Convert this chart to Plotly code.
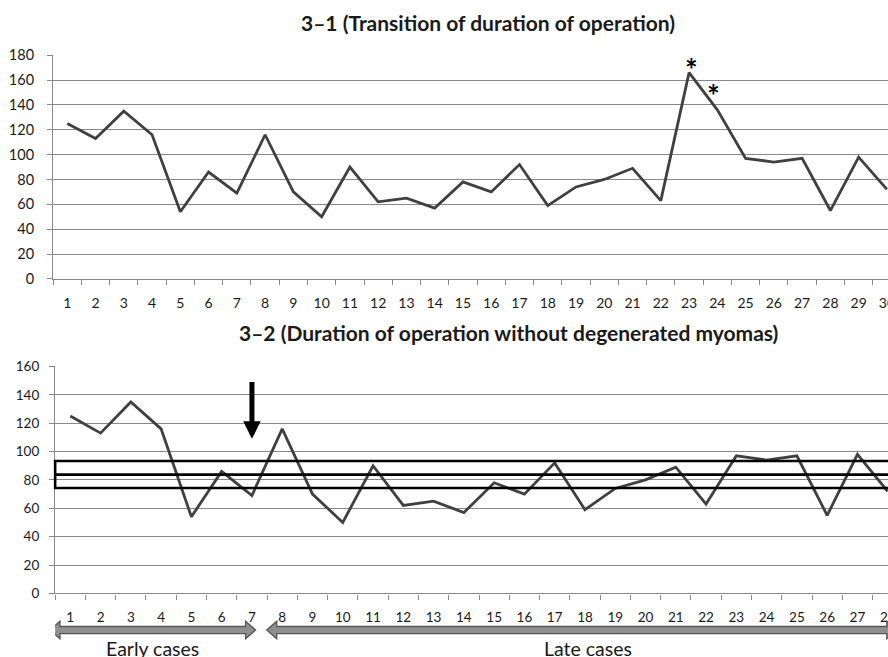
import plotly.graph_objects as go

# ---------------- data ----------------
cases_all = list(range(1, 31))
duration_all = [125, 113, 135, 116, 54, 86, 69, 116, 70, 50,
                90, 62, 65, 57, 78, 70, 92, 59, 74, 80,
                89, 63, 166, 136, 97, 94, 97, 55, 98, 72]

cases_excl = list(range(1, 29))
duration_excl = [125, 113, 135, 116, 54, 86, 69, 116, 70, 50,
                 90, 62, 65, 57, 78, 70, 92, 59, 74, 80,
                 89, 63, 97, 94, 97, 55, 98, 72]

band_lower, band_mid, band_upper = 74.3, 83.7, 93.3
asterisk_cases = [23, 24]
asterisk_values = [169, 148]
arrow_case = 7
arrow_from, arrow_to = 150, 109
early_span = (0.33, 7.12)
late_span = (7.49, 28.3)

title_top = "3\u20131 (Transition of duration of operation)"
title_bottom = "3\u20132 (Duration of operation without degenerated myomas)"
yticks_top = list(range(0, 181, 20))
yticks_bottom = list(range(0, 161, 20))

# ---------------- figure ----------------
W, H = 896, 666
FONT = "Lato"
GRID = "#888888"
LINE = "#404040"
TXT = "#1a1a1a"

def py(p):  # target on-screen pixel y -> paper y (empirical screen mapping)
    yi = (p - 8) / 0.976
    return 1 - yi / H

def px(p):  # target on-screen pixel x -> paper x
    return (p / 0.994) / W

fig = go.Figure()
fig.add_trace(go.Scatter(x=cases_all, y=duration_all, mode="lines",
                         line=dict(color=LINE, width=2.8), xaxis="x", yaxis="y",
                         showlegend=False, hoverinfo="x+y"))
fig.add_trace(go.Scatter(x=cases_excl, y=duration_excl, mode="lines",
                         line=dict(color=LINE, width=2.8), xaxis="x2", yaxis="y2",
                         showlegend=False, hoverinfo="x+y"))

def xaxis(domain, rng, cases, fs):
    return dict(domain=domain, range=rng, tickmode="array", tickvals=cases,
                ticktext=[str(c) for c in cases], ticks="outside", ticklen=11,
                tickcolor="rgba(0,0,0,0)", showgrid=False, zeroline=False,
                showline=True, linecolor=GRID, linewidth=1.3,
                ticklabeloverflow="allow",
                tickfont=dict(family=FONT, size=fs, color=TXT),
                minor=dict(tickmode="linear", tick0=0.5, dtick=1, ticks="outside",
                           ticklen=5, tickcolor=GRID, tickwidth=1.3, showgrid=False))

def yaxis(domain, rng, ticks, fs, standoff):
    return dict(domain=domain, range=rng, tickmode="array", tickvals=ticks,
                ticks="outside", ticklen=5, tickcolor=GRID, tickwidth=1.3,
                showgrid=True, gridcolor=GRID, gridwidth=1.4, zeroline=False,
                showline=True, linecolor=GRID, linewidth=1.3,
                ticklabelstandoff=standoff,
                tickfont=dict(family=FONT, size=fs, color=TXT))

fig.update_layout(
    width=W, height=H, margin=dict(l=0, r=0, t=0, b=0),
    paper_bgcolor="white", plot_bgcolor="white", showlegend=False,
    xaxis=xaxis([px(53), 1], [0.5, 0.5 + 835 / 28.1], cases_all, 14),
    yaxis=yaxis([py(278.3), py(54.3)], [0, 180], yticks_top, 14.5, 10),
    xaxis2=xaxis([px(55), 1], [0.5, 0.5 + 833 / 30.1], cases_excl, 13.5),
    yaxis2=yaxis([py(593.3), py(366)], [0, 160], yticks_bottom, 13.5, 7),
)
fig.layout.xaxis2.anchor = "y2"
fig.layout.yaxis2.anchor = "x2"

shapes = []
# band rectangle and centre line
shapes.append(dict(type="rect", xref="x2 domain", yref="y2", x0=0, x1=1.02,
                   y0=band_lower, y1=band_upper, line=dict(color="black", width=2.6),
                   fillcolor="rgba(0,0,0,0)"))
shapes.append(dict(type="line", xref="x2 domain", yref="y2", x0=0, x1=1,
                   y0=band_mid, y1=band_mid, line=dict(color="black", width=2.6)))

# double-headed block arrows (early / late cases)
yc = py(630)
bh = 3.6 / H
hh = 9 / H
hl = 0.33
def dbl_arrow(x0, x1):
    pts = [(x0, yc), (x0 + hl, yc + hh), (x0 + hl, yc + bh), (x1 - hl, yc + bh),
           (x1 - hl, yc + hh), (x1, yc), (x1 - hl, yc - hh), (x1 - hl, yc - bh),
           (x0 + hl, yc - bh), (x0 + hl, yc - hh)]
    return "M " + " L ".join(f"{a},{b}" for a, b in pts) + " Z"

for span in (early_span, late_span):
    shapes.append(dict(type="path", xref="x2", yref="paper", path=dbl_arrow(*span),
                       fillcolor="#8f8f8f", line=dict(color="#555555", width=1.3)))
fig.update_layout(shapes=shapes)

ann = []
ann.append(dict(text=f"<b>{title_top}</b>", xref="paper", yref="paper",
                x=px(487), y=py(22), xanchor="center", yanchor="middle",
                showarrow=False, font=dict(family=FONT, size=21, color=TXT)))
ann.append(dict(text=f"<b>{title_bottom}</b>", xref="paper", yref="paper",
                x=px(507), y=py(332), xanchor="center", yanchor="middle",
                showarrow=False, font=dict(family=FONT, size=21, color=TXT)))
for c, v, dx in zip(asterisk_cases, asterisk_values, [0.1, -0.12]):
    ann.append(dict(text="<b>*</b>", xref="x", yref="y", x=c + dx, y=v,
                    xanchor="center", yanchor="middle", showarrow=False,
                    font=dict(family=FONT, size=30, color="black")))
ann.append(dict(text="", xref="x2", yref="y2", x=arrow_case, y=arrow_to,
                axref="x2", ayref="y2", ax=arrow_case, ay=arrow_from,
                showarrow=True, arrowhead=2, arrowsize=0.7, arrowwidth=5,
                arrowcolor="black"))
ann.append(dict(text="Early cases", xref="x2", yref="paper",
                x=(early_span[0] + early_span[1]) / 2, y=py(635), xanchor="center",
                yanchor="top", showarrow=False, font=dict(family=FONT, size=19.5, color=TXT)))
ann.append(dict(text="Late cases", xref="x2", yref="paper", x=18.1, y=py(635),
                xanchor="center", yanchor="top", showarrow=False,
                font=dict(family=FONT, size=19.5, color=TXT)))
fig.update_layout(annotations=ann)

fig.write_html("out.html", config={"displayModeBar": False},
               post_script="document.body.style.margin='0';"
                           "document.body.style.overflow='hidden';")
